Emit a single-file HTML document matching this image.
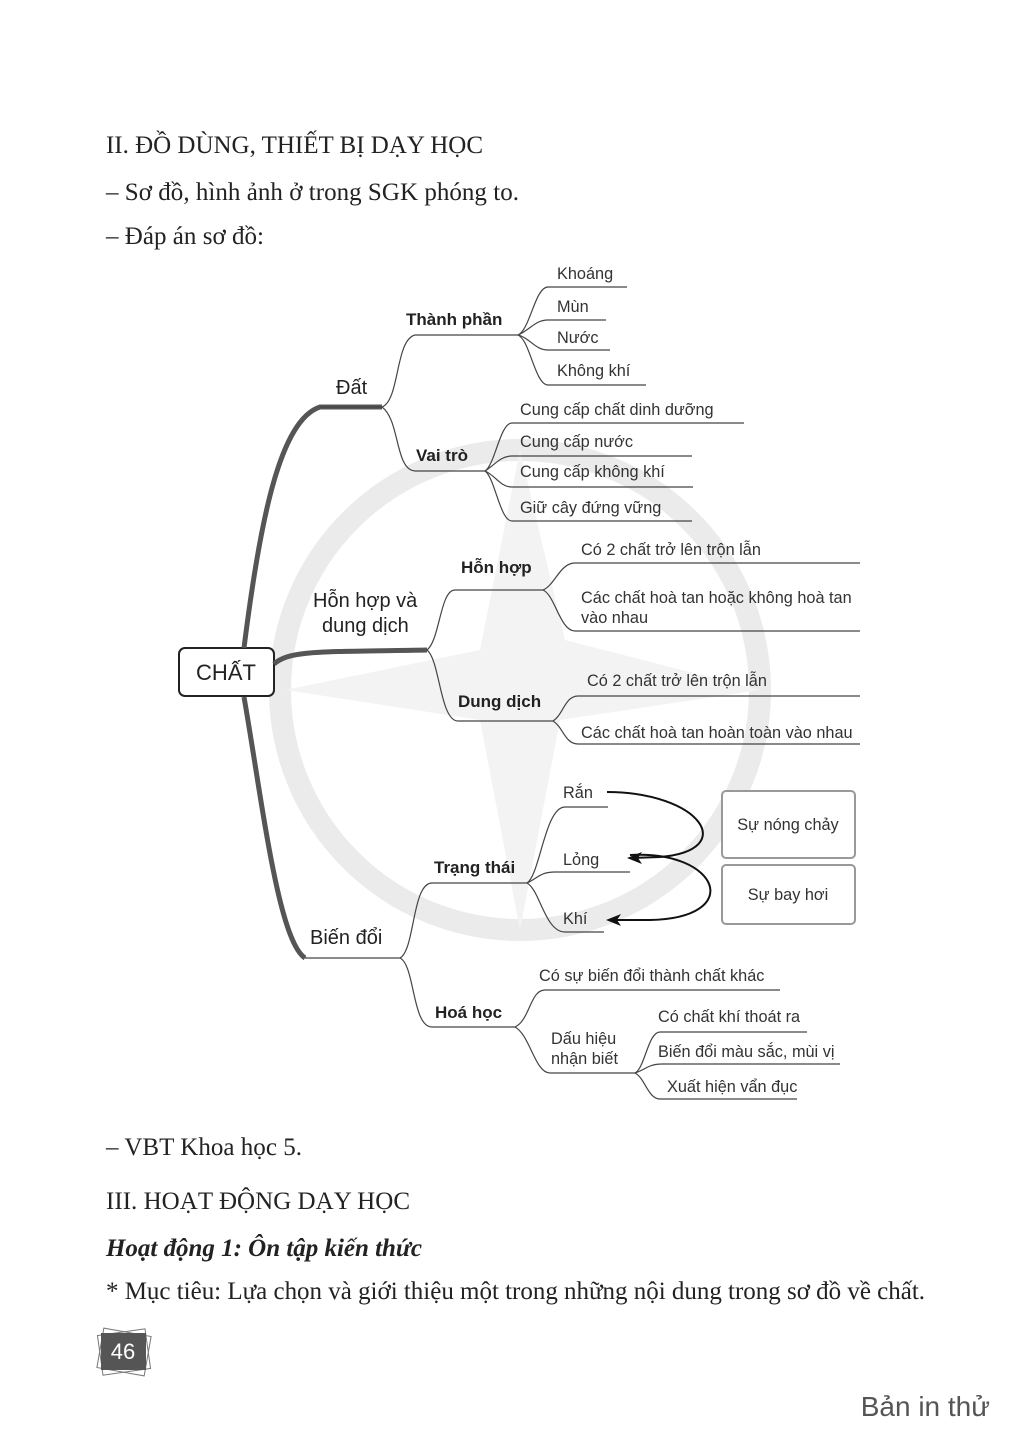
<!DOCTYPE html>
<html><head><meta charset="utf-8"><style>
html,body{margin:0;padding:0;background:#fff;}
svg{display:block;}
.s{font-family:"Liberation Serif",serif;font-size:25px;fill:#222;}
.l{font-family:"Liberation Sans",sans-serif;font-size:16.3px;fill:#333;}
.m{font-family:"Liberation Sans",sans-serif;font-size:17px;font-weight:bold;fill:#222;}
.b{font-family:"Liberation Sans",sans-serif;font-size:20px;fill:#222;}
.ln{fill:none;stroke:#444;stroke-width:1.2;}
</style></head><body>
<svg width="1022" height="1453" viewBox="0 0 1022 1453" xmlns="http://www.w3.org/2000/svg">
<!-- watermark -->
<circle cx="520" cy="690" r="240" fill="none" stroke="#ebebeb" stroke-width="22"/>
<path d="M520 450 L565 640 L760 690 L560 720 L520 930 L480 720 L285 690 L480 650 Z" fill="#f3f3f3"/>
<!-- header text -->
<text class="s" x="106" y="153" textLength="377">II. ĐỒ DÙNG, THIẾT BỊ DẠY HỌC</text>
<text class="s" x="106" y="200" textLength="413">– Sơ đồ, hình ảnh ở trong SGK phóng to.</text>
<text class="s" x="106" y="244" textLength="158">– Đáp án sơ đồ:</text>

<!-- CHAT box -->
<rect x="179" y="648" width="95" height="48" rx="6" fill="#fff" stroke="#222" stroke-width="2"/>
<text x="226" y="680" text-anchor="middle" font-family="Liberation Sans,sans-serif" font-size="22" fill="#222">CHẤT</text>
<!-- thick branches -->
<path d="M244 648 C260 520 280 420 320 407 L382 407" fill="none" stroke="#555" stroke-width="5"/>
<path d="M274 664 C290 650 320 652 427 650" fill="none" stroke="#555" stroke-width="5"/>
<path d="M244 697 C262 800 278 940 305 958" fill="none" stroke="#555" stroke-width="5"/>
<path class="ln" d="M305 958 L400 958"/>
<path class="ln" d="M320 407 L382 407"/>

<!-- Dat -->
<text class="b" x="336" y="394">Đất</text>
<path class="ln" d="M382 407 C400 400 395 340 415 335 L518 335"/>
<path class="ln" d="M382 407 C400 420 395 470 415 471 L485 471"/>
<text class="m" x="406" y="325">Thành phần</text>
<text class="m" x="416" y="461">Vai trò</text>
<path class="ln" d="M518 335 C530 330 535 287 548 287 L627 287"/>
<path class="ln" d="M518 335 C530 330 535 320 548 320 L606 320"/>
<path class="ln" d="M518 335 C530 338 535 350 548 350 L610 350"/>
<path class="ln" d="M518 335 C530 340 535 385 548 385 L646 385"/>
<text class="l" x="557" y="279">Khoáng</text>
<text class="l" x="557" y="312">Mùn</text>
<text class="l" x="557" y="343">Nước</text>
<text class="l" x="557" y="376">Không khí</text>
<path class="ln" d="M485 471 C495 465 500 423 512 423 L744 423"/>
<path class="ln" d="M485 471 C495 465 500 456 512 456 L692 456"/>
<path class="ln" d="M485 471 C495 475 500 487 512 487 L693 487"/>
<path class="ln" d="M485 471 C495 478 500 521 512 521 L692 521"/>
<text class="l" x="520" y="415">Cung cấp chất dinh dưỡng</text>
<text class="l" x="520" y="447">Cung cấp nước</text>
<text class="l" x="520" y="477">Cung cấp không khí</text>
<text class="l" x="520" y="513">Giữ cây đứng vững</text>

<!-- Hon hop -->
<text class="b" x="313" y="607">Hỗn hợp và</text>
<text class="b" x="322" y="632">dung dịch</text>
<path class="ln" d="M427 650 C440 640 440 590 455 590 L543 590"/>
<path class="ln" d="M427 650 C440 660 440 721 458 721 L553 721"/>
<text class="m" x="461" y="573">Hỗn hợp</text>
<text class="m" x="458" y="707">Dung dịch</text>
<path class="ln" d="M543 590 C555 585 560 563 575 563 L860 563"/>
<path class="ln" d="M543 590 C555 595 560 631 575 631 L860 631"/>
<text class="l" x="581" y="555">Có 2 chất trở lên trộn lẫn</text>
<text class="l" x="581" y="603">Các chất hoà tan hoặc không hoà tan</text>
<text class="l" x="581" y="623">vào nhau</text>
<path class="ln" d="M553 721 C563 715 565 696 578 696 L860 696"/>
<path class="ln" d="M553 721 C563 727 565 744 578 744 L860 744"/>
<text class="l" x="587" y="686">Có 2 chất trở lên trộn lẫn</text>
<text class="l" x="581" y="738">Các chất hoà tan hoàn toàn vào nhau</text>

<!-- Bien doi -->
<text class="b" x="310" y="944">Biến đổi</text>
<path class="ln" d="M400 958 C415 950 412 883 432 883 L527 883"/>
<path class="ln" d="M400 958 C415 965 412 1027 432 1027 L515 1027"/>
<text class="m" x="434" y="873">Trạng thái</text>
<text class="m" x="435" y="1018">Hoá học</text>
<path class="ln" d="M527 883 C540 875 545 807 565 807 L608 807"/>
<path class="ln" d="M527 883 C538 878 540 872 555 872 L630 872"/>
<path class="ln" d="M527 883 C540 890 545 932 565 932 L604 932"/>
<text class="l" x="563" y="798">Rắn</text>
<text class="l" x="563" y="865">Lỏng</text>
<text class="l" x="563" y="924">Khí</text>
<!-- arrows -->
<path d="M607 792 C700 792 740 850 660 857 L633 858" fill="none" stroke="#111" stroke-width="2"/>
<path d="M627 858 L642 852 L638 858 L642 864 Z" fill="#111"/>
<path d="M630 855 C720 850 745 918 650 920 L612 920" fill="none" stroke="#111" stroke-width="2"/>
<path d="M606 920 L621 914 L617 920 L621 926 Z" fill="#111"/>
<rect x="722" y="791" width="133" height="67" rx="4" fill="#fff" stroke="#999" stroke-width="2"/>
<rect x="722" y="865" width="133" height="59" rx="4" fill="#fff" stroke="#999" stroke-width="2"/>
<text class="l" x="788" y="830" text-anchor="middle">Sự nóng chảy</text>
<text class="l" x="788" y="900" text-anchor="middle">Sự bay hơi</text>

<path class="ln" d="M515 1027 C530 1020 530 990 545 990 L780 990"/>
<path class="ln" d="M515 1027 C530 1035 535 1073 550 1073 L635 1073"/>
<text class="l" x="539" y="981">Có sự biến đổi thành chất khác</text>
<text class="l" x="551" y="1044">Dấu hiệu</text>
<text class="l" x="551" y="1064">nhận biết</text>
<path class="ln" d="M635 1073 C645 1068 648 1032 660 1032 L807 1032"/>
<path class="ln" d="M635 1073 C645 1070 648 1064 662 1064 L840 1064"/>
<path class="ln" d="M635 1073 C645 1078 648 1099 660 1099 L797 1099"/>
<text class="l" x="658" y="1022">Có chất khí thoát ra</text>
<text class="l" x="658" y="1057">Biến đổi màu sắc, mùi vị</text>
<text class="l" x="667" y="1092">Xuất hiện vẩn đục</text>

<!-- footer text -->
<text class="s" x="106" y="1155" textLength="196">– VBT Khoa học 5.</text>
<text class="s" x="106" y="1209" textLength="304">III. HOẠT ĐỘNG DẠY HỌC</text>
<text class="s" x="106" y="1256" font-weight="bold" font-style="italic" textLength="316">Hoạt động 1: Ôn tập kiến thức</text>
<text class="s" x="106" y="1299" textLength="819">* Mục tiêu: Lựa chọn và giới thiệu một trong những nội dung trong sơ đồ về chất.</text>

<!-- page number -->
<g>
<rect x="100" y="1332" width="48" height="40" fill="none" stroke="#777" stroke-width="1" transform="rotate(-8 124 1352)"/>
<rect x="100" y="1332" width="48" height="40" fill="none" stroke="#777" stroke-width="1" transform="rotate(10 124 1352)"/>
<rect x="101" y="1333" width="45" height="37" fill="#555"/>
<text x="123" y="1359" text-anchor="middle" font-family="Liberation Sans,sans-serif" font-size="22" fill="#fff">46</text>
</g>
<text x="990" y="1416" text-anchor="end" font-family="Liberation Sans,sans-serif" font-size="28" fill="#555">Bản in thử</text>
</svg>
</body></html>
